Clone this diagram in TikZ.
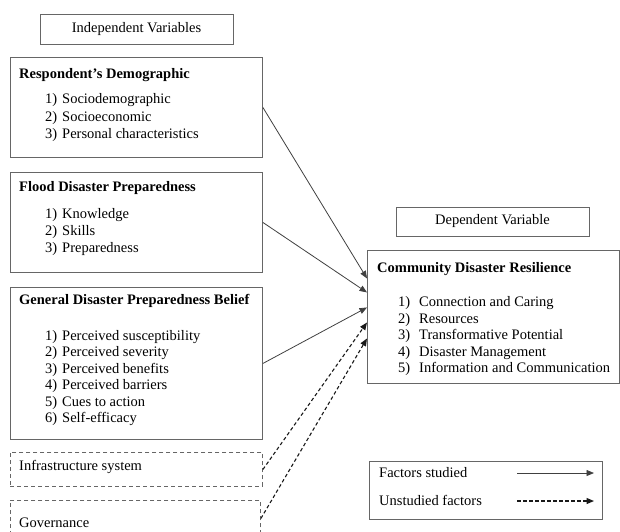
\documentclass[tikz,border=0pt]{standalone}
\usepackage{fontspec}
\setmainfont{Liberation Serif}
\usetikzlibrary{arrows.meta}
\begin{document}
\begin{tikzpicture}[x=1pt,y=-1pt,
  box/.style={draw=black!60, line width=0.9pt, rectangle, inner sep=0pt, anchor=north west},
  dbox/.style={box, dash pattern=on 4pt off 3pt},
  txt/.style={anchor=base west, inner sep=0pt, font=\fontsize{14.5}{16.5}\selectfont},
  ttl/.style={anchor=base west, inner sep=0pt, font=\fontsize{14.5}{16.5}\selectfont\bfseries},
  ctxt/.style={inner sep=0pt, font=\fontsize{14.5}{16.5}\selectfont},
  link/.style={draw=black!75, line width=0.8pt, -{Triangle[length=7.5pt,width=6pt]}},
  dlink/.style={link, draw=black!90, line width=1.1pt, dash pattern=on 3.5pt off 2.5pt}]
\useasboundingbox (0,0) rectangle (620,531);

% headers
\node[box, minimum width=193pt, minimum height=30pt] (indep) at (40,14) {};
\node[ctxt] (indepT) at (136.5,29) {Independent Variables};
\node[box, minimum width=193pt, minimum height=29pt] (dep) at (396,207) {};
\node[ctxt] (depT) at (492.5,221.5) {Dependent Variable};

% Respondent's Demographic
\node[box, minimum width=252pt, minimum height=100pt] (rd) at (10,57) {};
\node[ttl] (rdT) at (19,78) {Respondent’s Demographic};
\foreach \t [count=\i] in {Sociodemographic,Socioeconomic,Personal characteristics}{
  \node[txt] (rdN\i) at (45,{103.5+17.5*(\i-1)}) {\i)};
  \node[txt] (rdI\i) at (62,{103.5+17.5*(\i-1)}) {\t};
}

% Flood Disaster Preparedness
\node[box, minimum width=252pt, minimum height=100pt] (fdp) at (10,172) {};
\node[ttl] (fdpT) at (19,191.5) {Flood Disaster Preparedness};
\foreach \t [count=\i] in {Knowledge,Skills,Preparedness}{
  \node[txt] (fdpN\i) at (45,{218.5+17*(\i-1)}) {\i)};
  \node[txt] (fdpI\i) at (62,{218.5+17*(\i-1)}) {\t};
}

% General Disaster Preparedness Belief
\node[box, minimum width=252pt, minimum height=152pt] (gdp) at (10,287) {};
\node[ttl] (gdpT) at (19,304.5) {General Disaster Preparedness Belief};
\foreach \t [count=\i] in {Perceived susceptibility,Perceived severity,Perceived benefits,Perceived barriers,Cues to action,Self-efficacy}{
  \node[txt] (gdpN\i) at (45,{340+16.5*(\i-1)}) {\i)};
  \node[txt] (gdpI\i) at (62,{340+16.5*(\i-1)}) {\t};
}

% Unstudied factors
\node[dbox, minimum width=252pt, minimum height=34pt] (inf) at (10,452) {};
\node[txt] (infT) at (19,470.5) {Infrastructure system};
\node[dbox, minimum width=250pt, minimum height=36pt] (gov) at (10,500) {};
\node[txt] (govT) at (19,527.5) {Governance};

% Community Disaster Resilience
\node[box, minimum width=252pt, minimum height=133pt] (cdr) at (367,250) {};
\node[ttl] (cdrT) at (377,272.5) {Community Disaster Resilience};
\foreach \t [count=\i] in {Connection and Caring,Resources,Transformative Potential,Disaster Management,Information and Communication}{
  \node[txt] (cdrN\i) at (398,{306.5+16.5*(\i-1)}) {\i)};
  \node[txt] (cdrI\i) at (419,{306.5+16.5*(\i-1)}) {\t};
}

% connectors
\draw[link] (rd.east) -- ([yshift=38.5pt]cdr.west);
\draw[link] (fdp.east) -- ([yshift=24.5pt]cdr.west);
\draw[link] (gdp.east) -- ([yshift=9.5pt]cdr.west);
\draw[dlink] (inf.east) -- ([yshift=-5.5pt]cdr.west);
\draw[dlink] (gov.east) -- ([yshift=-21.5pt]cdr.west);

% legend
\node[box, minimum width=233pt, minimum height=58pt] (leg) at (369,461) {};
\node[txt] (legA) at (379,477.5) {Factors studied};
\node[txt] (legB) at (379,505.5) {Unstudied factors};
\coordinate (legA1) at (517,473);
\coordinate (legA2) at (594,473);
\coordinate (legB1) at (517,501);
\coordinate (legB2) at (594,501);
\draw[link] (legA1) -- (legA2);
\draw[dlink] (legB1) -- (legB2);
\end{tikzpicture}
\end{document}
